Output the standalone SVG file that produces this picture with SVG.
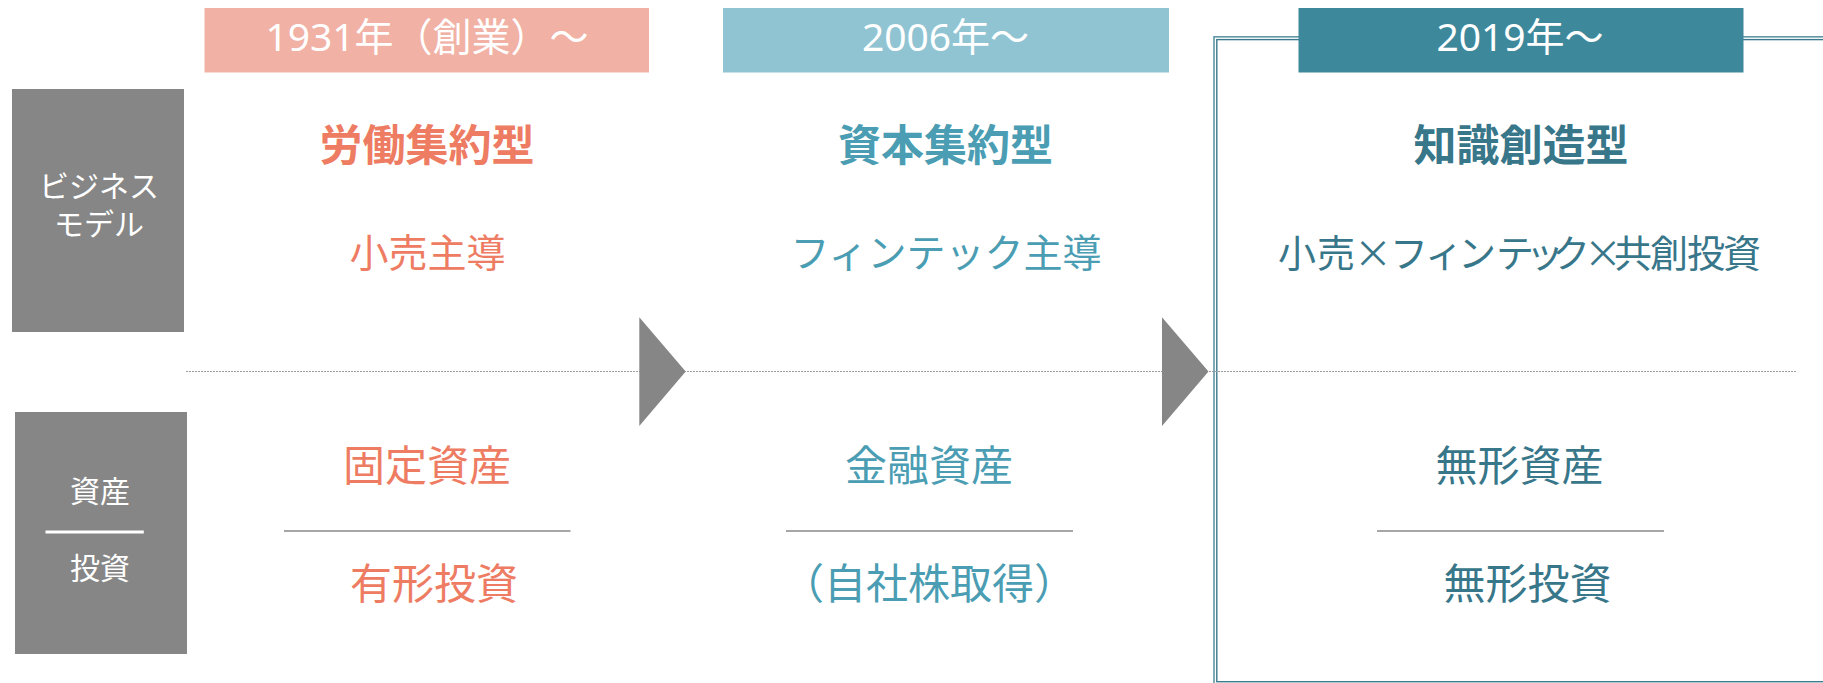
<svg xmlns="http://www.w3.org/2000/svg" width="1823" height="683" viewBox="0 0 1823 683">
<style>
text{font-family:"Noto Sans","Noto Sans CJK JP",sans-serif;text-anchor:middle}
.hdr{font-size:39px;fill:#fff}
.lbl{font-size:30px;fill:#fff;font-family:"Noto Sans CJK JP",sans-serif}
.title{font-size:43px;font-weight:bold;font-family:"Noto Sans CJK JP",sans-serif}
.sub{font-size:39px;font-family:"Noto Sans CJK JP",sans-serif}
.big{font-size:42px;font-family:"Noto Sans CJK JP",sans-serif}
.c1{fill:#EE7C63}.c2{fill:#4A9DB2}.c3{fill:#38768A}
.gbox{fill:#868686}
.sep{stroke:#A6A6A6;stroke-width:2}
.arrow{fill:#868686}
</style>
<g id="frame3" fill="none">
<rect x="1214" y="36.8" width="640" height="648" stroke="#5F97A6" stroke-width="1.6"/>
<rect x="1216.8" y="39.6" width="640" height="642.1" stroke="#3A7A8D" stroke-width="1.4"/>
</g>
<g id="connectors">
<line x1="186" y1="371.5" x2="1796" y2="371.5" stroke="#9C9C9C" stroke-width="1" stroke-dasharray="2 1"/>
<polygon class="arrow" points="639.3,317.3 685.7,371.5 639.3,426"/>
<polygon class="arrow" points="1162,317.3 1208.5,371.5 1162,426"/>
</g>
<g id="row-label-business">
<rect class="gbox" x="12" y="89" width="172" height="243"/>
<text class="lbl"><tspan x="99" y="197">ビジネス</tspan><tspan x="99" y="235">モデル</tspan></text>
</g>
<g id="row-label-assets">
<rect class="gbox" x="15" y="412" width="172" height="242"/>
<text class="lbl" x="100" y="502">資産</text>
<line x1="45.5" y1="532" x2="143.8" y2="532" stroke="#fff" stroke-width="3"/>
<text class="lbl" x="100" y="579">投資</text>
</g>
<g id="era-1931">
<rect x="204.5" y="8" width="444.5" height="64.5" fill="#F1B1A5"/>
<text class="hdr" x="427" y="50.7">1931年（創業）～</text>
<text class="title c1" x="427" y="161">労働集約型</text>
<text class="sub c1" x="427.5" y="267">小売主導</text>
<text class="big c1" x="427" y="481">固定資産</text>
<line class="sep" x1="284" y1="531" x2="570.5" y2="531"/>
<text class="big c1" x="434" y="599">有形投資</text>
</g>
<g id="era-2006">
<rect x="723" y="8" width="446" height="64.5" fill="#91C4D3"/>
<text class="hdr" x="945.5" y="50.7">2006年～</text>
<text class="title c2" x="945.5" y="161">資本集約型</text>
<text class="sub c2" x="946" y="267">フィンテック主導</text>
<text class="big c2" x="929" y="481">金融資産</text>
<line class="sep" x1="786" y1="531" x2="1073" y2="531"/>
<text class="big c2" x="929" y="599">（自社株取得）</text>
</g>
<g id="era-2019">
<rect x="1298.5" y="8" width="445" height="64.5" fill="#3E889C"/>
<text class="hdr" x="1520" y="50.7">2019年～</text>
<text class="title c3" x="1521" y="161">知識創造型</text>
<text class="sub c3" style="font-size:38px" x="1297 1336 1373 1409 1444 1477 1515 1545 1571 1603 1633 1669 1706 1742" y="267">小売×フィンテック×共創投資</text>
<text class="big c3" x="1519.5" y="481">無形資産</text>
<line class="sep" x1="1377" y1="531" x2="1664" y2="531"/>
<text class="big c3" x="1527.5" y="599">無形投資</text>
</g>
</svg>
